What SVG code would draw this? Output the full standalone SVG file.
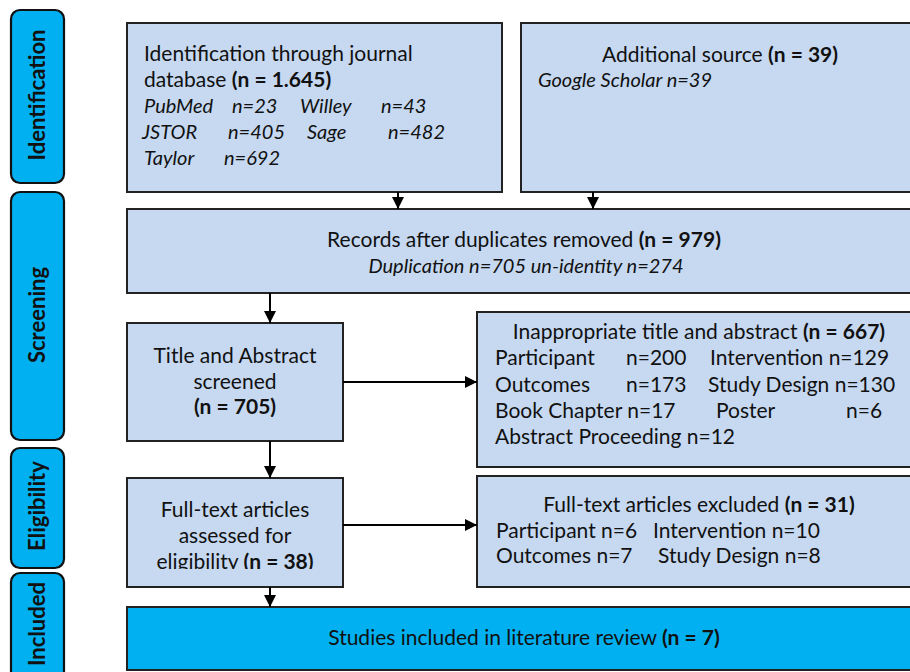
<svg xmlns="http://www.w3.org/2000/svg" width="910" height="672" viewBox="0 0 910 672">
<style>
.box{fill:#C6D9F1;stroke:#222;stroke-width:2}
.inc{fill:#00B0F0;stroke:#222;stroke-width:2}
.side{fill:#00B0F0;stroke:#111;stroke-width:2.2}
.t{font-family:Lato,"Liberation Sans",sans-serif;font-size:21px;fill:#111}
.c{text-anchor:middle}
.i{font-style:italic;font-size:20px}
.b{font-weight:bold}
.s{font-family:Lato,"Liberation Sans",sans-serif;font-size:22px;font-weight:bold;fill:#111;text-anchor:middle}
.ln{stroke:#000;stroke-width:2;fill:none;marker-end:url(#ah)}
</style>
<defs>
<marker id="ah" viewBox="0 0 10 10" refX="10" refY="5" markerWidth="6" markerHeight="6" markerUnits="strokeWidth" orient="auto">
<path d="M0,0 L10,5 L0,10 z" fill="#000"/>
</marker>
<clipPath id="clipFT"><rect x="127" y="478" width="216" height="91"/></clipPath>
</defs>
<rect width="910" height="672" fill="#fff"/>

<g id="stage-identification">
<rect class="side" x="11" y="10" width="53" height="173" rx="9"/>
<text class="s" transform="translate(45,95) rotate(-90)">Identification</text>
</g>
<g id="stage-screening">
<rect class="side" x="11" y="192" width="53" height="248" rx="9"/>
<text class="s" transform="translate(45,315) rotate(-90)">Screening</text>
</g>
<g id="stage-eligibility">
<rect class="side" x="11" y="448" width="53" height="120" rx="9"/>
<text class="s" transform="translate(45,506) rotate(-90)">Eligibility</text>
</g>
<g id="stage-included">
<rect class="side" x="11" y="573" width="53" height="115" rx="9"/>
<text class="s" transform="translate(45,624) rotate(-90)">Included</text>
</g>

<g id="journal">
<rect class="box" x="127" y="23" width="375" height="169"/>
<text class="t" x="144" y="61">Identification through journal</text>
<text class="t" x="144" y="87">database  <tspan class="b">(n = 1.645)</tspan></text>
<text class="t i" y="113"><tspan x="144">PubMed</tspan><tspan x="232">n=23</tspan><tspan x="300">Willey</tspan><tspan x="381">n=43</tspan></text>
<text class="t i" y="139"><tspan x="142">JSTOR</tspan><tspan x="228">n=405</tspan><tspan x="307">Sage</tspan><tspan x="388">n=482</tspan></text>
<text class="t i" y="165"><tspan x="144">Taylor</tspan><tspan x="224">n=692</tspan></text>
</g>

<g id="additional">
<rect class="box" x="521" y="23" width="400" height="169"/>
<text class="t c" x="720" y="62">Additional source <tspan class="b">(n = 39)</tspan></text>
<text class="t i" x="538" y="87">Google Scholar n=39</text>
</g>

<g id="records">
<rect class="box" x="127" y="209" width="794" height="84"/>
<text class="t c" x="524" y="247">Records after duplicates removed <tspan class="b">(n = 979)</tspan></text>
<text class="t c i" x="526" y="273">Duplication n=705 un-identity n=274</text>
</g>

<g id="screened">
<rect class="box" x="127" y="323" width="216" height="118"/>
<text class="t c" x="235" y="363">Title and Abstract</text>
<text class="t c" x="235" y="389">screened</text>
<text class="t c b" x="235" y="414">(n = 705)</text>
</g>

<g id="inappropriate">
<rect class="box" x="477" y="312" width="444" height="155"/>
<text class="t c" x="699" y="339">Inappropriate title and abstract <tspan class="b">(n = 667)</tspan></text>
<text class="t" y="365"><tspan x="495">Participant</tspan><tspan x="626">n=200</tspan><tspan x="710">Intervention n=129</tspan></text>
<text class="t" y="392"><tspan x="495">Outcomes</tspan><tspan x="626">n=173</tspan><tspan x="708">Study Design n=130</tspan></text>
<text class="t" y="418"><tspan x="495">Book Chapter n=17</tspan><tspan x="716">Poster</tspan><tspan x="846">n=6</tspan></text>
<text class="t" x="495" y="444">Abstract Proceeding n=12</text>
</g>

<g id="fulltext">
<rect class="box" x="127" y="478" width="216" height="109"/>
<g clip-path="url(#clipFT)">
<text class="t c" x="235" y="517">Full-text articles</text>
<text class="t c" x="235" y="543">assessed for</text>
<text class="t c" x="235" y="569">eligibility <tspan class="b">(n = 38)</tspan></text>
</g>
</g>

<g id="excluded">
<rect class="box" x="477" y="476" width="444" height="111"/>
<text class="t c" x="699" y="512">Full-text articles excluded <tspan class="b">(n = 31)</tspan></text>
<text class="t" y="538"><tspan x="496">Participant n=6</tspan><tspan x="653">Intervention n=10</tspan></text>
<text class="t" y="563"><tspan x="496">Outcomes n=7</tspan><tspan x="658">Study Design n=8</tspan></text>
</g>

<g id="included">
<rect class="inc" x="127" y="607" width="794" height="63"/>
<text class="t c" x="524" y="645">Studies included in literature review <tspan class="b">(n = 7)</tspan></text>
</g>

<g id="connectors">
<line class="ln" x1="398" y1="192" x2="398" y2="209"/>
<line class="ln" x1="593" y1="192" x2="593" y2="209"/>
<line class="ln" x1="270" y1="293" x2="270" y2="323"/>
<line class="ln" x1="343" y1="382" x2="477" y2="382"/>
<line class="ln" x1="270" y1="441" x2="270" y2="478"/>
<line class="ln" x1="343" y1="525" x2="477" y2="525"/>
<line class="ln" x1="270" y1="587" x2="270" y2="607"/>
</g>
</svg>
